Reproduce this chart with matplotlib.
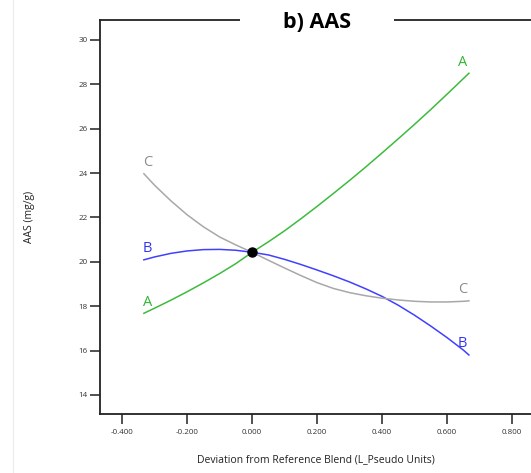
"""
Trace plot b) AAS: response vs deviation from reference blend for components A, B, C.
"""
import matplotlib
matplotlib.use("Agg")
import matplotlib.pyplot as plt
from matplotlib.lines import Line2D

plt.rcParams["font.family"] = ["Open Sans", "DejaVu Sans"]

# Deviation from reference blend (L_Pseudo units)
deviation = [-0.333, -0.30, -0.25, -0.20, -0.15, -0.10, -0.05, 0.0,
             0.05, 0.10, 0.15, 0.20, 0.25, 0.30, 0.35, 0.40,
             0.45, 0.50, 0.55, 0.60, 0.65, 0.667]

# AAS (mg/g)
aas_a = [17.68, 17.91, 18.27, 18.65, 19.05, 19.47, 19.92, 20.43,
         20.9, 21.4, 21.94, 22.5, 23.08, 23.67, 24.28, 24.91,
         25.55, 26.2, 26.87, 27.56, 28.26, 28.5]
aas_b = [20.09, 20.22, 20.38, 20.49, 20.55, 20.56, 20.52, 20.43,
         20.31, 20.11, 19.88, 19.63, 19.37, 19.09, 18.78, 18.44,
         18.04, 17.59, 17.1, 16.58, 16.02, 15.8]
aas_c = [23.97, 23.45, 22.75, 22.12, 21.58, 21.12, 20.76, 20.43,
         20.07, 19.72, 19.38, 19.06, 18.8, 18.61, 18.47, 18.36,
         18.28, 18.22, 18.19, 18.19, 18.22, 18.24]

ref_point = (0.0, 20.43)

x_ticks = [-0.4, -0.2, 0.0, 0.2, 0.4, 0.6, 0.8]
y_ticks = [14, 16, 18, 20, 22, 24, 26, 28, 30]

series = [
    ("A", aas_a, "#3dbb3d", "#33b533"),
    ("B", aas_b, "#4040ff", "#3535f0"),
    ("C", aas_c, "#a8a8a8", "#8c8c8c"),
]

fig = plt.figure(figsize=(5.31, 4.73), dpi=100)
ax = fig.add_axes([100 / 531, 59 / 473, 431 / 531, 394 / 473])

for name, values, line_color, text_color in series:
    ax.plot(deviation, values, color=line_color, lw=1.1, zorder=2)
    # curve labels at both ends
    ax.text(deviation[0] + 0.012, values[0] + 0.5, name, color=text_color,
            fontsize=10.5, ha="center", va="center")
    ax.text(deviation[-1] - 0.02, values[-1] + 0.5, name, color=text_color,
            fontsize=10.5, ha="center", va="center")

ax.plot(*ref_point, "o", color="black", ms=6.5, zorder=3)

ax.set_xlim(-0.468, 0.858)
ax.set_ylim(13.14, 30.9)
ax.set_xticks(x_ticks)
ax.set_xticklabels([f"{v:.3f}" for v in x_ticks])
ax.set_yticks(y_ticks)
ax.set_yticklabels([str(v) for v in y_ticks])

ax.tick_params(axis="both", direction="out", length=7, width=1.2,
               labelsize=5.8, labelcolor="#333333", color="#333333")
ax.tick_params(axis="y", pad=2)
ax.tick_params(axis="x", pad=4)

for side in ["left", "bottom", "top"]:
    ax.spines[side].set_linewidth(1.3)
    ax.spines[side].set_color("#222222")
ax.spines["right"].set_visible(False)

ax.set_xlabel("Deviation from Reference Blend (L_Pseudo Units)", fontsize=7.5,
              color="#222222", labelpad=13)
ax.set_ylabel("AAS (mg/g)", fontsize=7.5, color="#222222", labelpad=31)

# title box sits over the top spine
fig.patches.append(plt.Rectangle((240 / 531, 1 - 32 / 473), 154 / 531, 22 / 473,
                                 transform=fig.transFigure, facecolor="white",
                                 edgecolor="none", zorder=5))
fig.text(317 / 531, 1 - 22 / 473, "b) AAS", fontsize=15.5, fontweight="bold",
         ha="center", va="center", zorder=6)

# faint panel border on the left
fig.add_artist(Line2D([13 / 531, 13 / 531], [0, 1], color="#ececec", lw=0.8))

fig.savefig("out.png", dpi=100)
